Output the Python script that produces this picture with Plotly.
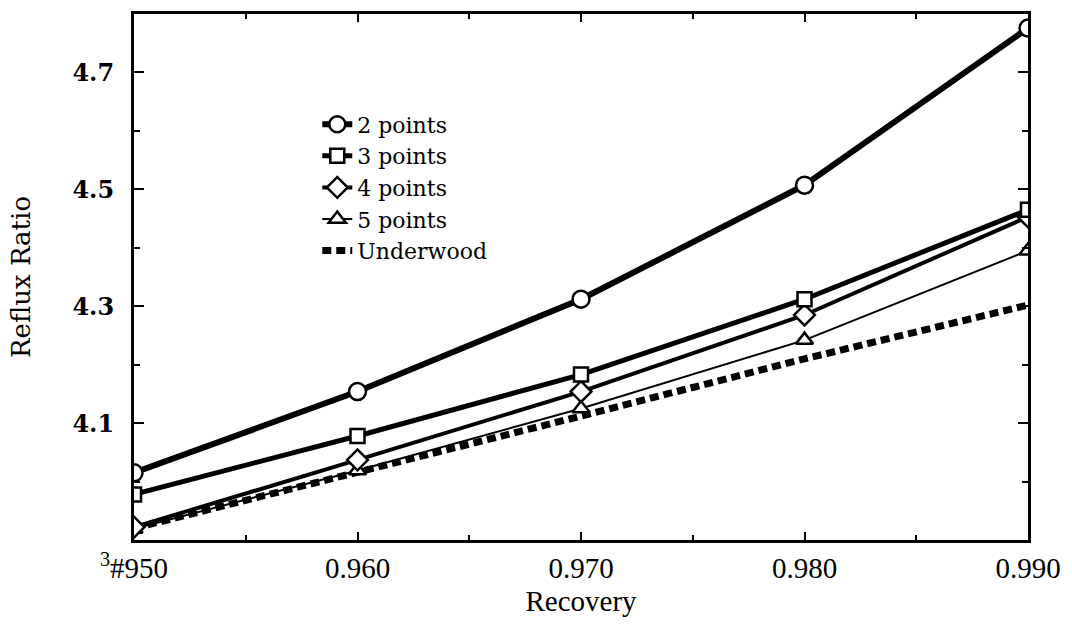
import plotly.graph_objects as go

recovery = [0.950, 0.960, 0.970, 0.980, 0.990]
pts2 = [4.015, 4.154, 4.312, 4.507, 4.776]
pts3 = [3.978, 4.078, 4.183, 4.312, 4.465]
pts4 = [3.922, 4.037, 4.154, 4.285, 4.453]
pts5 = [3.919, 4.019, 4.125, 4.242, 4.395]
underwood = [3.920, 4.015, 4.112, 4.210, 4.302]

x_tickvals = [0.950, 0.960, 0.970, 0.980, 0.990]
x_ticktext = ["<sup>3</sup>#950", "0.960", "0.970", "0.980", "0.990"]
y_tickvals = [4.1, 4.3, 4.5, 4.7]
y_ticktext = ["4.1", "4.3", "4.5", "4.7"]

serif = "DejaVu Serif"
times = "Liberation Serif"

fig = go.Figure()

fig.add_trace(go.Scatter(
    x=recovery, y=underwood, name="Underwood", mode="lines",
    line=dict(color="black", width=7, dash="9px,5px"), legendrank=5))

specs = [
    ("5 points", pts5, "triangle-up", 15, 2, 4),
    ("4 points", pts4, "diamond", 16, 4, 3),
    ("3 points", pts3, "square", 14, 5, 2),
    ("2 points", pts2, "circle", 17, 6, 1),
]
for name, ys, sym, size, lw, rank in specs:
    fig.add_trace(go.Scatter(
        x=recovery, y=ys, name=name, mode="lines+markers",
        line=dict(color="black", width=lw),
        marker=dict(symbol=sym, size=size, color="white",
                    line=dict(color="black", width=2.5)),
        legendrank=rank))

fig.update_layout(
    width=1072, height=627,
    margin=dict(l=134, r=42, t=11, b=87),
    paper_bgcolor="white", plot_bgcolor="white",
    showlegend=True,
    legend=dict(x=0.205, y=0.83, xanchor="left", yanchor="top",
                font=dict(family=serif, size=22, color="black"),
                bgcolor="rgba(0,0,0,0)", tracegroupgap=0,
                traceorder="normal"),
    font=dict(family=times, color="black"),
)

fig.update_xaxes(
    range=[0.950, 0.990], tickvals=x_tickvals, ticktext=x_ticktext,
    showline=True, linecolor="black", linewidth=3, mirror="ticks",
    ticks="inside", ticklen=8, tickwidth=2, tickcolor="black",
    minor=dict(ticks="inside", ticklen=5, tickwidth=2, tickcolor="black", dtick=0.005),
    showgrid=False, zeroline=False,
    tickfont=dict(family=times, size=29, color="black"),
    title=dict(text="Recovery", font=dict(family=times, size=29, color="black"), standoff=8),
)
fig.update_yaxes(
    range=[3.9, 4.8], tickvals=y_tickvals, ticktext=y_ticktext,
    showline=True, linecolor="black", linewidth=3, mirror="ticks",
    ticks="inside", ticklen=10, tickwidth=2, tickcolor="black",
    minor=dict(ticks="inside", ticklen=6, tickwidth=2, tickcolor="black", dtick=0.1),
    showgrid=False, zeroline=False, ticklabelstandoff=12,
    tickfont=dict(family=serif, size=24, color="black", weight="bold"),
    title=dict(text="Reflux Ratio", font=dict(family=serif, size=26, color="black"), standoff=35),
)

fig.write_html("out.html")
